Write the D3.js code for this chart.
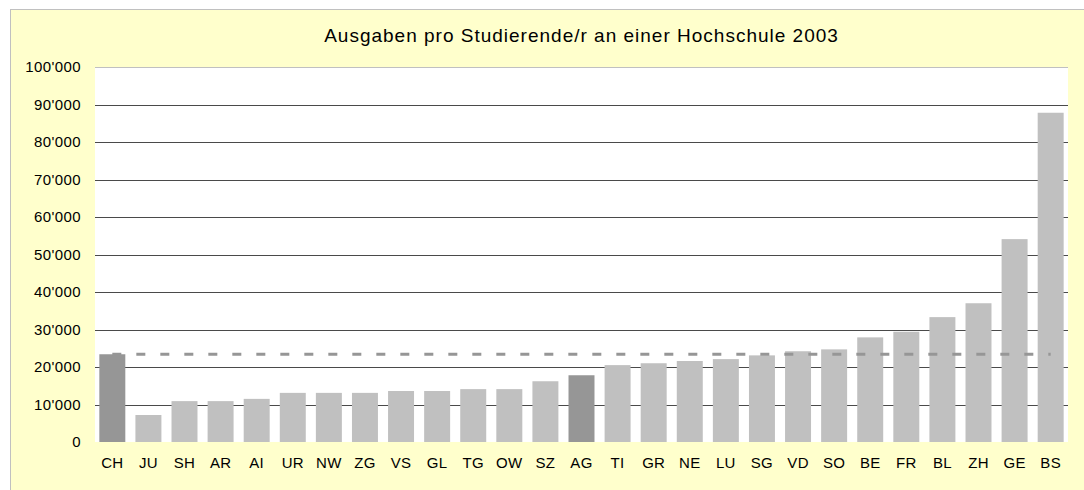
<!DOCTYPE html>
<html>
<head>
<meta charset="utf-8">
<script src="https://cdn.jsdelivr.net/npm/d3@7"></script>
<style>
  html, body { margin: 0; padding: 0; background: #fff; }
  svg { display: block; }
  text { font-family: "Liberation Sans", Arial, sans-serif; fill: #000; }
</style>
</head>
<body>
<svg id="chart" width="1084" height="490"></svg>
<script>
const title = "Ausgaben pro Studierende/r an einer Hochschule 2003";
const categories = ["CH","JU","SH","AR","AI","UR","NW","ZG","VS","GL","TG","OW","SZ","AG","TI","GR","NE","LU","SG","VD","SO","BE","FR","BL","ZH","GE","BS"];
const values = [23400, 7200, 10900, 10900, 11500, 13100, 13100, 13100, 13600, 13600, 14100, 14100, 16200, 17800, 20500, 21000, 21600, 22100, 23100, 24200, 24700, 27900, 29400, 33300, 37000, 54100, 87800];
const highlighted = ["CH", "AG"];
const averageValue = 23400;
const yTicks = [0, 10000, 20000, 30000, 40000, 50000, 60000, 70000, 80000, 90000, 100000];
const yTickLabels = ["0", "10'000", "20'000", "30'000", "40'000", "50'000", "60'000", "70'000", "80'000", "90'000", "100'000"];

const svg = d3.select("#chart");
const W = 1084, H = 490;
const plot = { left: 95, right: 1068, top: 67, bottom: 442 };

// outer chart area
svg.append("rect").attr("x", 10.5).attr("y", 9.5).attr("width", W).attr("height", H)
  .attr("fill", "#FFFFCC").attr("stroke", "#C0C0C0").attr("stroke-width", 1);

// plot area
svg.append("rect").attr("x", plot.left).attr("y", plot.top)
  .attr("width", plot.right - plot.left).attr("height", plot.bottom - plot.top)
  .attr("fill", "#FFFFFF");

const x = d3.scaleBand().domain(categories).range([plot.left, plot.right])
  .paddingInner(0.28).paddingOuter(0.12);
const y = d3.scaleLinear().domain([0, 100000]).range([plot.bottom, plot.top]);

// gridlines
svg.append("g").selectAll("line").data(yTicks.filter(t => t > 0)).join("line")
  .attr("x1", plot.left).attr("x2", plot.right)
  .attr("y1", d => Math.round(y(d)) + 0.5).attr("y2", d => Math.round(y(d)) + 0.5)
  .attr("stroke", d => d === 100000 ? "#C0C0C0" : "#4a4a4a").attr("stroke-width", 1);

// y axis labels
const yAxis = d3.axisLeft(y).tickValues(yTicks).tickSize(0).tickPadding(0)
  .tickFormat((d, i) => yTickLabels[i]);
const gy = svg.append("g").attr("transform", `translate(81,0)`).call(yAxis);
gy.select(".domain").remove();
gy.selectAll("text").attr("font-size", 15).attr("letter-spacing", 0.4)
  .attr("font-family", "Liberation Sans, Arial, sans-serif").attr("fill", "#000");

// bars
svg.append("g").selectAll("rect").data(categories).join("rect")
  .attr("x", d => x(d)).attr("width", x.bandwidth())
  .attr("y", (d, i) => y(values[i])).attr("height", (d, i) => y(0) - y(values[i]))
  .attr("fill", d => highlighted.includes(d) ? "#969696" : "#C0C0C0");

// average dashed line
svg.append("line")
  .attr("x1", x(categories[0]) + x.bandwidth() / 2)
  .attr("x2", x(categories[categories.length - 1]) + x.bandwidth() / 2)
  .attr("y1", y(averageValue)).attr("y2", y(averageValue))
  .attr("stroke", "#969696").attr("stroke-width", 3).attr("stroke-dasharray", "9 15");

// x axis labels
const xAxis = d3.axisBottom(x).tickSize(0).tickPadding(0);
const gx = svg.append("g").attr("transform", `translate(0,${plot.bottom + 15})`).call(xAxis);
gx.select(".domain").remove();
gx.selectAll("text").attr("font-size", 15).attr("letter-spacing", 0.3)
  .attr("font-family", "Liberation Sans, Arial, sans-serif").attr("fill", "#000");

// title
svg.append("text").attr("x", (plot.left + plot.right) / 2).attr("y", 42)
  .attr("text-anchor", "middle").attr("font-size", 19).attr("letter-spacing", 1)
  .text(title);
</script>
</body>
</html>
